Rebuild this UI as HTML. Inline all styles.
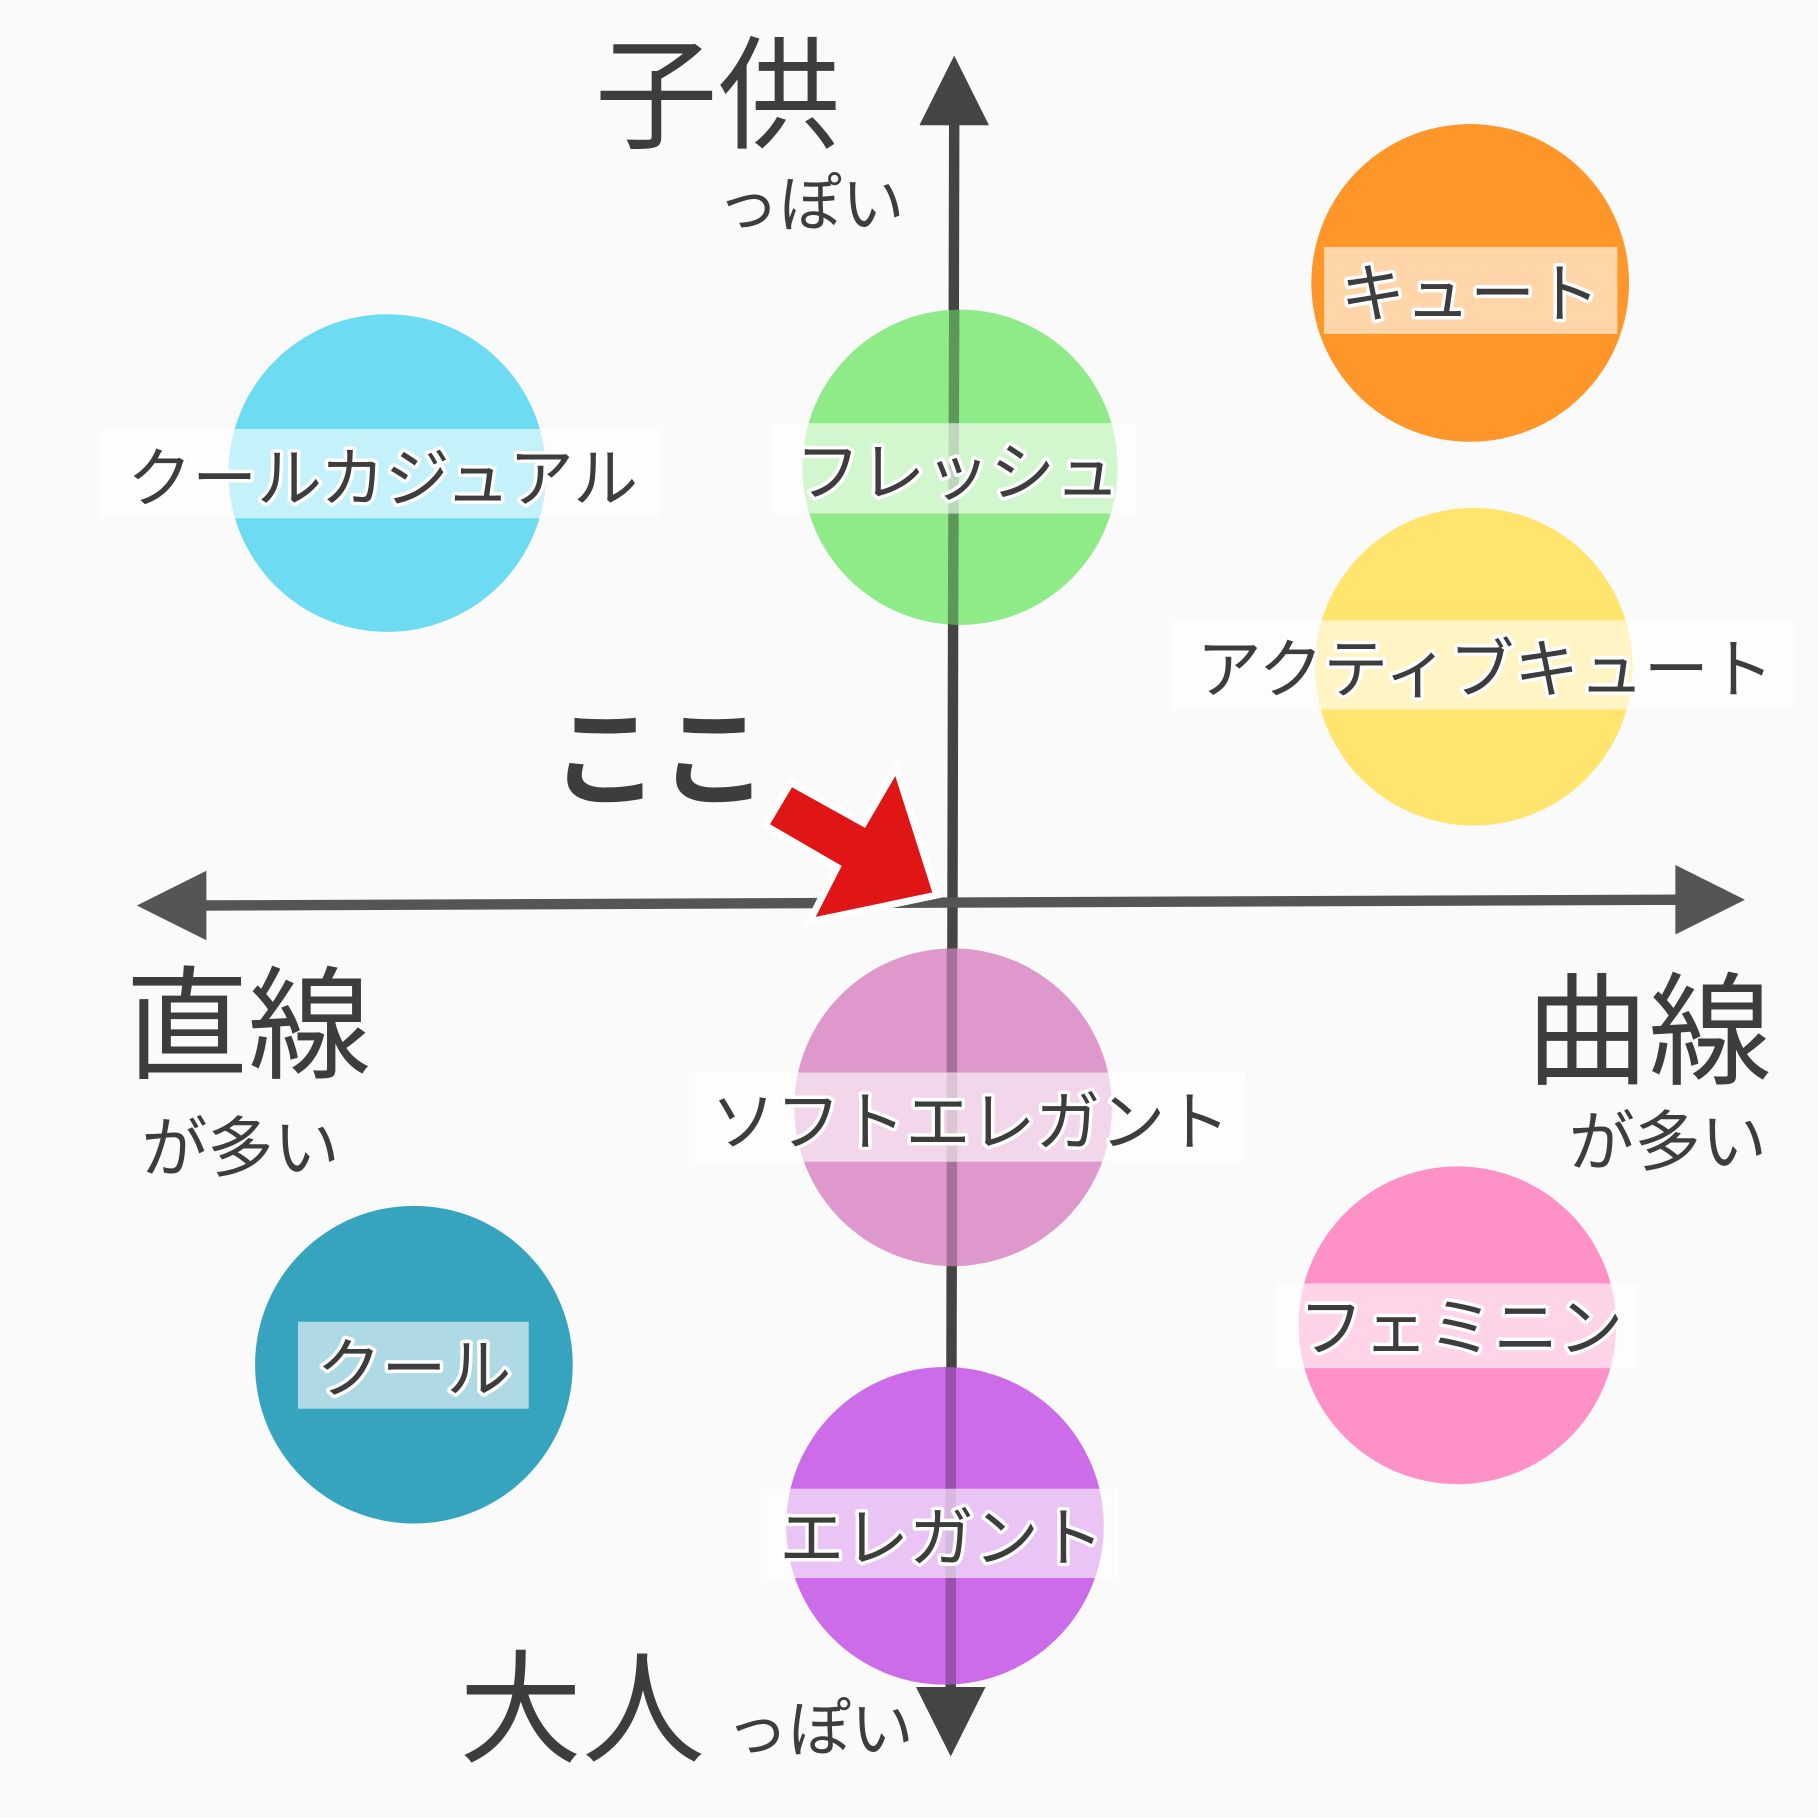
<!DOCTYPE html>
<html><head><meta charset="utf-8"><style>
html,body{margin:0;padding:0;background:#fafafa;}
svg{display:block;}
text{font-family:"Liberation Sans","Noto Sans CJK JP",sans-serif;fill:#3d3d3d;}
.lb{font-size:56px;stroke:#fff;stroke-width:6px;paint-order:stroke;stroke-linejoin:round;}
</style></head><body>
<svg width="1818" height="1818" viewBox="0 0 1568 1568" xmlns="http://www.w3.org/2000/svg">
<rect width="1568" height="1568" fill="#fafafa"/>
<line x1="823" y1="100" x2="820" y2="1460" stroke="#444" stroke-width="9"/>
<polygon points="793,108 853,108 823,48" fill="#444"/>
<polygon points="790,1455 850,1455 820,1515" fill="#444"/>
<line x1="170" y1="781" x2="1450" y2="776" stroke="#555" stroke-width="9"/>
<polygon points="178,751 178,811 118,781" fill="#555"/>
<polygon points="1445,746 1445,806 1505,776" fill="#555"/>
<circle cx="334" cy="408" r="137" fill="#6ddcf2"/>
<circle cx="828" cy="403" r="136" fill="#8fea88"/>
<circle cx="1268" cy="244" r="137" fill="#fe9629"/>
<circle cx="1271" cy="575" r="137" fill="#ffe46d"/>
<circle cx="822" cy="955" r="137" fill="#de98cc"/>
<circle cx="1257" cy="1143" r="137" fill="#fe92c6"/>
<circle cx="357" cy="1177" r="137" fill="#37a4bf"/>
<circle cx="815" cy="1316" r="137" fill="#cc6ce8"/>
<line x1="823" y1="267" x2="822" y2="539" stroke="#000" stroke-opacity="0.35" stroke-width="9"/>
<line x1="821" y1="818" x2="821" y2="1092" stroke="#000" stroke-opacity="0.25" stroke-width="9"/>
<line x1="820" y1="1179" x2="820" y2="1453" stroke="#000" stroke-opacity="0.25" stroke-width="9"/>
<g fill="#fff" fill-opacity="0.6">
<rect x="87" y="370" width="483" height="77"/>
<rect x="665" y="365" width="315" height="78"/>
<rect x="1142" y="213" width="253" height="75"/>
<rect x="1010" y="535" width="537" height="77"/>
<rect x="594" y="925" width="481" height="77"/>
<rect x="1100" y="1107" width="313" height="73"/>
<rect x="257" y="1140" width="199" height="75"/>
<rect x="656" y="1284" width="309" height="77"/>
</g>
<text class="lb" x="330" y="432" text-anchor="middle">クールカジュアル</text>
<text class="lb" x="826" y="427" text-anchor="middle">フレッシュ</text>
<text class="lb" x="1268" y="273" text-anchor="middle">キュート</text>
<text class="lb" x="1281" y="597" text-anchor="middle">アクティブキュート</text>
<text class="lb" x="837" y="987" text-anchor="middle">ソフトエレガント</text>
<text class="lb" x="1260" y="1165" text-anchor="middle">フェミニン</text>
<text class="lb" x="357" y="1200" text-anchor="middle">クール</text>
<text class="lb" x="812" y="1346" text-anchor="middle">エレガント</text>
<text x="513" y="120" font-size="106">子供</text>
<text x="618" y="195" font-size="54">っぽい</text>
<text x="108" y="922" font-size="106">直線</text>
<text x="122" y="1010" font-size="57">が多い</text>
<text x="1316" y="927" font-size="106">曲線</text>
<text x="1353" y="1005" font-size="57">が多い</text>
<text x="396" y="1512" font-size="106">大人</text>
<text x="626" y="1510" font-size="54">っぽい</text>
<text x="475" y="688" font-size="94" font-weight="bold">ここ</text>
<polygon points="773,662 808,772 698,795 722,748 660,712 682,675 745,710" fill="#e01616" stroke="#fff" stroke-width="6" stroke-linejoin="miter"/>
</svg>
</body></html>
